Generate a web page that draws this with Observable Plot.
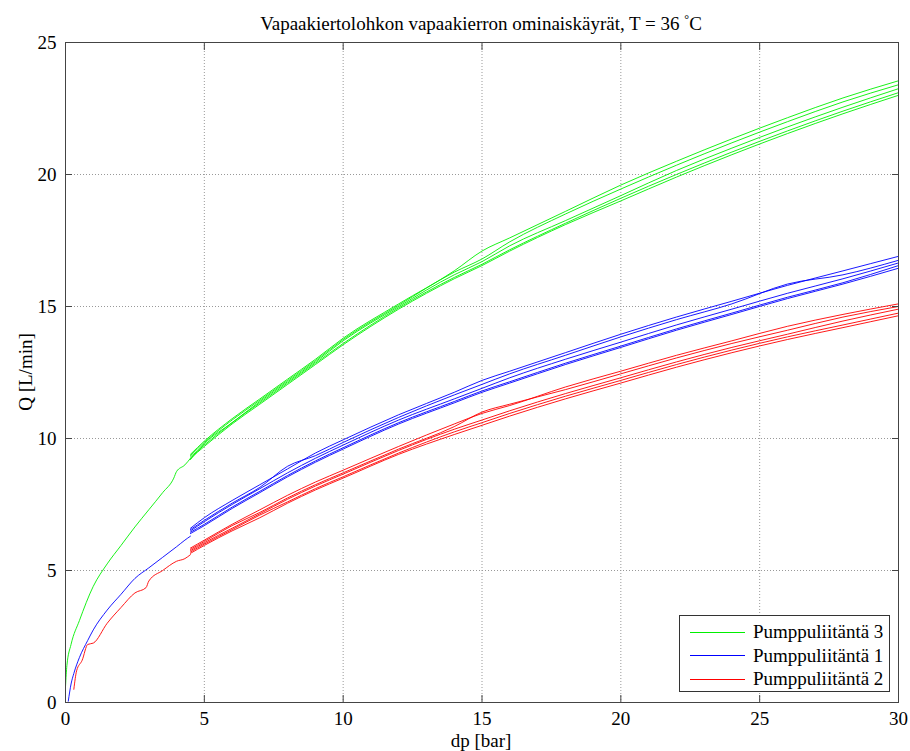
<!DOCTYPE html>
<html><head><meta charset="utf-8">
<script src="https://cdn.jsdelivr.net/npm/d3@7"></script>
<script src="https://cdn.jsdelivr.net/npm/@observablehq/plot@0.6"></script>
<style>
body{margin:0;background:#fff}
#wrap{position:relative;width:910px;height:751px;font-family:'Liberation Serif','DejaVu Serif',serif;color:#000}
#wrap svg{position:absolute;left:0;top:0}
.lbl{position:absolute;font-size:19px;white-space:nowrap;line-height:1}
#title{left:0;width:962px;top:13px;text-align:center;font-size:19px}
#xlabel{left:0;width:962px;top:731px;text-align:center}
#ylabel{left:25px;top:372px;transform:translate(-50%,-50%) rotate(-90deg)}
#legend{position:absolute;left:679px;top:615px;width:211px;height:77px;border:1px solid #333;background:#fff;box-sizing:border-box}
.item{position:absolute;left:0;height:22px;display:flex;align-items:center;font-size:19px}
.sw{width:55px;height:0;border-top:1.5px solid;margin-left:10px;margin-right:8px}
</style>
</head><body>
<div id="wrap">
  <div class="lbl" id="title">Vapaakiertolohkon vapaakierron ominaiskäyrät, T = 36 <sup style="font-size:12px">°</sup>C</div>
  <div class="lbl" id="xlabel">dp [bar]</div>
  <div class="lbl" id="ylabel">Q [L/min]</div>
</div>
<script>
// ---- data ----
const seriesNames = ["Pumppuliitäntä 3", "Pumppuliitäntä 1", "Pumppuliitäntä 2"];
const seriesColors = ["#00f000", "#0000ff", "#ff0000"];
const xTicks = [0, 5, 10, 15, 20, 25, 30];
const yTicks = [0, 5, 10, 15, 20, 25];

// initial (single) run of each series, low pressure part
const greenStartDp = [0, 0.05, 0.2, 0.5, 1, 1.5, 2, 2.5, 3, 3.5, 3.9, 4.0, 4.3, 4.5];
const greenStartQ  = [0.6, 1.4, 2.2, 3.1, 4.4, 5.25, 5.95, 6.65, 7.3, 7.95, 8.5, 8.75, 9.0, 9.25];
const blueStartDp  = [0.1, 0.2, 0.3, 0.5, 0.8, 1, 1.5, 2, 2.5, 3, 3.5, 4, 4.3, 4.5];
const blueStartQ   = [0.05, 0.7, 1.1, 1.7, 2.35, 2.75, 3.5, 4.1, 4.7, 5.1, 5.5, 5.9, 6.15, 6.3];
const redStartDp   = [0.3, 0.4, 0.6, 0.8, 1.0, 1.5, 2.0, 2.5, 2.9, 3.0, 3.5, 4.0, 4.3, 4.5];
const redStartQ    = [0.5, 1.2, 1.6, 2.2, 2.25, 3.0, 3.6, 4.15, 4.35, 4.6, 5.0, 5.35, 5.45, 5.6];

// repeated runs, shared dp grid
const dpRun = [4.5, 5, 6, 7, 8, 9, 10, 12, 14, 15, 16, 18, 20, 22, 24, 26, 28, 30];
const greenRuns = [
  [9.25, 9.7, 10.55, 11.3, 12.05, 12.8, 13.55, 14.9, 16.05, 16.55, 17.1, 18.1, 19.0, 19.9, 20.75, 21.55, 22.3, 23.0],
  [9.3, 9.75, 10.6, 11.35, 12.1, 12.85, 13.6, 14.95, 16.1, 16.6, 17.15, 18.15, 19.1, 20.0, 20.85, 21.65, 22.4, 23.1],
  [9.2, 9.8, 10.6, 11.4, 12.15, 12.9, 13.7, 15.0, 16.2, 16.7, 17.3, 18.25, 19.2, 20.15, 21.0, 21.8, 22.55, 23.25],
  [9.35, 9.85, 10.7, 11.45, 12.2, 12.95, 13.75, 15.05, 16.3, 16.8, 17.45, 18.5, 19.45, 20.35, 21.2, 22.0, 22.75, 23.4],
  [9.4, 9.9, 10.75, 11.5, 12.25, 13.0, 13.8, 15.1, 16.35, 17.1, 17.6, 18.6, 19.6, 20.5, 21.35, 22.15, 22.9, 23.55]
];
const blueRuns = [
  [6.4, 6.7, 7.35, 7.95, 8.55, 9.1, 9.6, 10.55, 11.35, 11.75, 12.1, 12.8, 13.45, 14.1, 14.7, 15.3, 15.85, 16.45],
  [6.45, 6.75, 7.4, 8.0, 8.6, 9.15, 9.65, 10.6, 11.4, 11.8, 12.15, 12.85, 13.5, 14.15, 14.75, 15.35, 15.9, 16.55],
  [6.5, 6.85, 7.5, 8.1, 8.7, 9.25, 9.75, 10.7, 11.5, 11.9, 12.3, 13.0, 13.65, 14.3, 14.9, 15.5, 16.05, 16.65],
  [6.55, 6.9, 7.55, 8.15, 8.95, 9.35, 9.85, 10.8, 11.65, 12.05, 12.45, 13.15, 13.85, 14.5, 15.1, 15.85, 16.2, 16.75],
  [6.6, 7.0, 7.65, 8.25, 8.85, 9.45, 9.95, 10.9, 11.75, 12.2, 12.55, 13.25, 13.95, 14.6, 15.2, 15.8, 16.35, 16.9]
];
const redRuns = [
  [5.65, 5.95, 6.5, 7.0, 7.55, 8.05, 8.5, 9.4, 10.15, 10.5, 10.85, 11.5, 12.1, 12.7, 13.25, 13.75, 14.2, 14.65],
  [5.7, 6.0, 6.55, 7.1, 7.6, 8.1, 8.55, 9.45, 10.25, 10.6, 10.95, 11.6, 12.2, 12.8, 13.35, 13.85, 14.3, 14.75],
  [5.75, 6.05, 6.6, 7.15, 7.7, 8.2, 8.65, 9.55, 10.35, 10.7, 11.05, 11.7, 12.3, 12.9, 13.45, 13.95, 14.45, 14.9],
  [5.8, 6.1, 6.7, 7.2, 7.75, 8.25, 8.7, 9.6, 10.45, 11.0, 11.3, 11.85, 12.45, 13.05, 13.6, 14.1, 14.6, 15.0],
  [5.85, 6.15, 6.75, 7.3, 7.85, 8.35, 8.8, 9.7, 10.55, 10.95, 11.25, 11.95, 12.55, 13.15, 13.7, 14.25, 14.7, 15.1]
];

// ---- build table ----
const rows = [];
function addRun(series, id, dps, qs) {
  dps.forEach((d, i) => rows.push({series, run: series + "-" + id, dp: d, q: qs[i]}));
}
addRun(seriesNames[0], "s", greenStartDp, greenStartQ);
addRun(seriesNames[1], "s", blueStartDp, blueStartQ);
addRun(seriesNames[2], "s", redStartDp, redStartQ);
greenRuns.forEach((r, i) => addRun(seriesNames[0], i, dpRun, r));
blueRuns.forEach((r, i) => addRun(seriesNames[1], i, dpRun, r));
redRuns.forEach((r, i) => addRun(seriesNames[2], i, dpRun, r));

const chart = Plot.plot({
  width: 910, height: 751,
  marginLeft: 65, marginRight: 12, marginTop: 42, marginBottom: 49,
  style: {fontFamily: "'Liberation Serif','DejaVu Serif',serif", fontSize: "19px", background: "transparent", color: "#000"},
  x: {domain: [0, 30]},
  y: {domain: [0, 25]},
  color: {domain: seriesNames, range: seriesColors},
  marks: [
    Plot.gridX(xTicks, {stroke: "#999", strokeOpacity: 1, strokeDasharray: "1,2"}),
    Plot.gridY(yTicks, {stroke: "#999", strokeOpacity: 1, strokeDasharray: "1,2"}),
    Plot.line(rows, {x: "dp", y: "q", z: "run", stroke: "series", strokeWidth: 0.9, curve: "monotone-x"}),
    Plot.frame({stroke: "#444"}),
    Plot.axisX({ticks: xTicks, anchor: "bottom", tickSize: -7, label: null, stroke: "#444"}),
    Plot.axisX({ticks: xTicks, anchor: "top", tickSize: -7, label: null, tickFormat: () => "", stroke: "#444"}),
    Plot.axisY({ticks: yTicks, anchor: "left", tickSize: -7, label: null, stroke: "#444"}),
    Plot.axisY({ticks: yTicks, anchor: "right", tickSize: -7, label: null, tickFormat: () => "", stroke: "#444"})
  ]
});
const wrap = document.getElementById("wrap");
wrap.insertBefore(chart, wrap.firstChild);

// legend
const legend = document.createElement("div");
legend.id = "legend";
seriesNames.forEach((name, i) => {
  const it = document.createElement("div");
  it.className = "item";
  it.style.top = (5 + i * 23.5) + "px";
  const sw = document.createElement("span");
  sw.className = "sw";
  sw.style.borderTopColor = seriesColors[i];
  const tx = document.createElement("span");
  tx.textContent = name;
  it.appendChild(sw); it.appendChild(tx);
  legend.appendChild(it);
});
wrap.appendChild(legend);
</script>
</body></html>
